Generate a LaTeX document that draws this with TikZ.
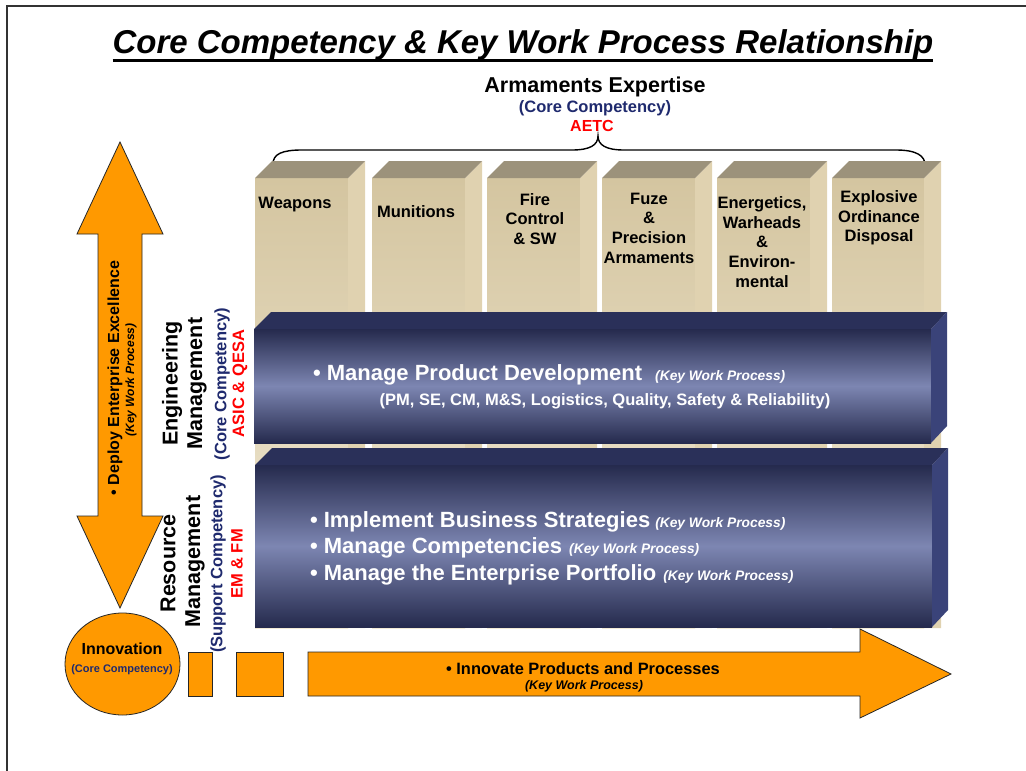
\documentclass[tikz,border=0pt]{standalone}
\usepackage{fontspec}
\setmainfont{Liberation Sans}
\usetikzlibrary{shapes.geometric}
\definecolor{orng}{HTML}{FF9900}
\definecolor{navytxt}{HTML}{1F2A6E}
\definecolor{redtxt}{HTML}{FF0000}
\definecolor{tanTop}{HTML}{D4C5A0}
\definecolor{tanBot}{HTML}{F2EAD5}
\definecolor{tanSide}{HTML}{E0D2B0}
\definecolor{tanRoof}{HTML}{9C927B}
\definecolor{barDark}{HTML}{252A4D}
\definecolor{barLight}{HTML}{7D86B2}
\definecolor{barTop}{HTML}{2A3059}
\definecolor{barSide}{HTML}{3A4379}
\newcommand\fsz[2]{\fontsize{#1}{#2}\selectfont}
\newcommand\tancol[2]{%
  \shade[top color=tanTop, bottom color=tanBot] (#1,178) rectangle (#2,628);
  \fill[tanSide] (#2,178) -- (#2+17,161) -- (#2+17,628) -- (#2,628) -- cycle;
  \fill[tanRoof] (#1,178) -- (#1+17,161) -- (#2+17,161) -- (#2,178) -- cycle;
}
\newcommand\bluebar[4]{%
  \shade[top color=barDark, bottom color=barDark, middle color=barLight] (#1,#3) rectangle (#2,#4);
  \fill[barTop] (#1,#3) -- (#1+17,#3-17) -- (#2+16,#3-17) -- (#2,#3) -- cycle;
  \fill[barSide] (#2,#3) -- (#2+16,#3-17) -- (#2+16,#4-17) -- (#2,#4) -- cycle;
}
\tikzset{
  txt/.style={inner sep=0pt, outer sep=0pt, font=\bfseries},
  coltxt/.style={txt, align=center, font=\bfseries\fsz{16.5}{19.7}},
  orangeshape/.style={fill=orng, draw=black!85, line width=0.8pt},
  vert/.style={txt, rotate=90},
}
\begin{document}
\begin{tikzpicture}[x=1pt,y=-1pt]
\useasboundingbox (0,0) rectangle (1026,771);
\fill[white] (0,0) rectangle (1026,771);
\draw[line width=2pt, black!80] (7,771) -- (7,6) -- (1026,6);

% title
\node[txt, anchor=base, font=\bfseries\itshape\fsz{33}{40}] (title) at (523,53) {Core Competency \& Key Work Process Relationship};
\draw[line width=3pt] ([yshift=-7pt]title.base west) -- ([yshift=-7pt]title.base east);

% armaments header
\node[txt, anchor=base, font=\bfseries\fsz{21.5}{26}] (arm) at (595,92) {Armaments Expertise};
\node[txt, anchor=base, font=\bfseries\fsz{16.5}{20}, text=navytxt] (armcc) at (595,112) {(Core Competency)};
\node[txt, anchor=base, font=\bfseries\fsz{16}{20}, text=redtxt] (aetc) at (592,131) {AETC};
\coordinate (brL) at (273,164);
\coordinate (brM) at (598,136);
\coordinate (brR) at (925,165);
\draw[line width=1.4pt] (brL) .. controls (273,154) and (282,150) .. (302,150) -- (572,150)
  .. controls (590,150) and (598,145) .. (brM)
  .. controls (598,145) and (606,150) .. (624,150) -- (896,150)
  .. controls (917,150) and (925,156) .. (brR);

% columns
\tancol{255}{348}
\tancol{372}{465}
\tancol{487}{580}
\tancol{602}{695}
\tancol{717}{810}
\tancol{832}{924}
\node[coltxt] (c1) at (295,205) {Weapons};
\node[coltxt] (c2) at (416,212) {Munitions};
\node[coltxt] (c3) at (535,219) {Fire\\Control\\\& SW};
\node[coltxt] (c4) at (649,228) {Fuze\\\&\\Precision\\Armaments};
\node[coltxt] (c5) at (762,242) {Energetics,\\Warheads\\\&\\Environ-\\mental};
\node[coltxt] (c6) at (879,218) {Explosive\\Ordinance\\Disposal};

% blue bars
\bluebar{254}{931}{329}{443}
\bluebar{255}{932}{465}{627}
\node[txt, anchor=base west, text=white, font=\bfseries\fsz{22}{26}] (mpd) at (313,380)
  {\textbullet\ Manage Product Development\hspace{13pt}{\itshape\fsz{13.8}{16}(Key Work Process)}};
\node[txt, anchor=base, text=white, font=\bfseries\fsz{16.5}{20}] (mpd2) at (605,405)
  {(PM, SE, CM, M\&S, Logistics, Quality, Safety \& Reliability)};
\node[txt, anchor=base west, text=white, font=\bfseries\fsz{22}{26}] (ibs) at (310,527)
  {\textbullet\ Implement Business Strategies\hspace{5pt}{\itshape\fsz{13.8}{16}(Key Work Process)}};
\node[txt, anchor=base west, text=white, font=\bfseries\fsz{22}{26}] (mc) at (310,553)
  {\textbullet\ Manage Competencies\hspace{7pt}{\itshape\fsz{13.8}{16}(Key Work Process)}};
\node[txt, anchor=base west, text=white, font=\bfseries\fsz{22}{26}] (mep) at (310,580)
  {\textbullet\ Manage the Enterprise Portfolio\hspace{7pt}{\itshape\fsz{13.8}{16}(Key Work Process)}};

% vertical double arrow
\fill[orangeshape] (120,142) -- (163,234) -- (142,234) -- (142,516) -- (163,516) -- (120,608)
  -- (77,516) -- (98,516) -- (98,234) -- (77,234) -- cycle;
\node[vert, font=\bfseries\fsz{16}{19}] (dee) at (115,378) {\textbullet\ Deploy Enterprise Excellence};
\node[vert, font=\bfseries\itshape\fsz{12}{14}] (deek) at (131,380) {(Key Work Process)};

% side labels
\node[vert, font=\bfseries\fsz{21.5}{26}] (eng1) at (172,383.5) {Engineering};
\node[vert, font=\bfseries\fsz{21.5}{26}] (eng2) at (197,383.5) {Management};
\node[vert, font=\bfseries\fsz{16.5}{20}, text=navytxt] (eng3) at (222,384) {(Core Competency)};
\node[vert, font=\bfseries\fsz{16.5}{20}, text=redtxt] (eng4) at (240,383.5) {ASIC \& QESA};
\node[vert, font=\bfseries\fsz{21.5}{26}] (res1) at (168,563.5) {Resource};
\node[vert, font=\bfseries\fsz{21.5}{26}] (res2) at (195,561.5) {Management};
\node[vert, font=\bfseries\fsz{16.5}{20}, text=navytxt] (res3) at (218,564) {(Support Competency)};
\node[vert, font=\bfseries\fsz{16.5}{20}, text=redtxt] (res4) at (237,564) {EM \& FM};

% innovation
\draw[orangeshape] (122.5,664) ellipse [x radius=57.5, y radius=51];
\node[txt, font=\bfseries\fsz{16}{19}] (inn1) at (122,649) {Innovation};
\node[txt, font=\bfseries\fsz{11}{13}, text=navytxt] (inn2) at (122,670) {(Core Competency)};
\draw[orangeshape] (188,652) rectangle (212,696);
\draw[orangeshape] (236,652) rectangle (283,696);
\fill[orangeshape] (308,652) -- (860,652) -- (860,629) -- (951,674) -- (860,718) -- (860,696) -- (308,696) -- cycle;
\node[txt, font=\bfseries\fsz{16.4}{19}] (ipp) at (583,669) {\textbullet\ Innovate Products and Processes};
\node[txt, font=\bfseries\itshape\fsz{12.5}{15}] (ippk) at (584,686) {(Key Work Process)};
\end{tikzpicture}
\end{document}
